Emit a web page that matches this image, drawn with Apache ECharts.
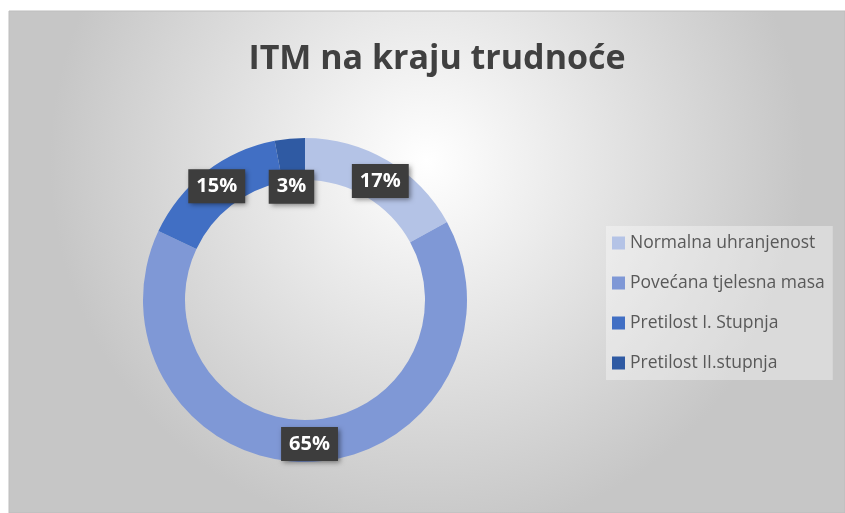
<!DOCTYPE html>
<html>
<head>
<meta charset="utf-8">
<script src="https://cdn.jsdelivr.net/npm/echarts@6/dist/echarts.min.js"></script>
<style>
  html, body { margin: 0; padding: 0; background: #fff; }
  #chart { width: 845px; height: 513px; }
</style>
</head>
<body>
<div id="chart"></div>
<script>
const categories = ['Normalna uhranjenost', 'Povećana tjelesna masa', 'Pretilost I. Stupnja', 'Pretilost II.stupnja'];
const values = [17, 65, 15, 3];
const colors = ['#b4c3e6', '#7f98d6', '#416fc4', '#2f5aa3'];

const chart = echarts.init(document.getElementById('chart'));

const option = {
    animation: false,
    graphic: [{
        type: 'rect',
        z: -10,
        shape: { x: 9, y: 11, width: 836, height: 502 },
        style: {
            fill: {
                type: 'radial', x: 0.5, y: 0.3, r: 0.75,
                colorStops: [
                    { offset: 0, color: '#ffffff' },
                    { offset: 1, color: '#c6c6c6' }
                ]
            },
            stroke: '#bdbdbd',
            lineWidth: 1
        }
    }],
    title: {
        text: 'ITM na kraju trudnoće',
        left: 432,
        textAlign: 'center',
        top: 37,
        textStyle: {
            fontFamily: 'Open Sans',
            fontSize: 34,
            fontWeight: 'bold',
            color: '#404040'
        }
    },
    legend: {
        orient: 'vertical',
        left: 606,
        top: 226,
        itemGap: 22,
        itemWidth: 13,
        itemHeight: 13,
        padding: [8, 8, 8, 6],
        backgroundColor: 'rgba(255,255,255,0.35)',
        icon: 'rect',
        textStyle: {
            fontFamily: 'Open Sans',
            fontSize: 17.5,
            color: '#595959'
        },
        data: categories
    },
    series: [{
        type: 'pie',
        center: [305, 300],
        radius: [120, 162],
        startAngle: 90,
        clockwise: true,
        avoidLabelOverlap: false,
        label: {
            show: true,
            position: 'inside',
            formatter: '{c}%',
            fontFamily: 'Open Sans',
            fontSize: 20,
            fontWeight: 'bold',
            color: '#ffffff',
            backgroundColor: '#3d3d3d',
            padding: [8, 8, 6, 8],
            shadowColor: 'rgba(0,0,0,0.45)',
            shadowBlur: 5,
            shadowOffsetX: 2,
            shadowOffsetY: 2
        },
        labelLine: { show: false },
        data: categories.map((name, i) => {
            const item = { name: name, value: values[i], itemStyle: { color: colors[i] } };
            if (i === 0) item.label = { offset: [2, 5] };
            if (i === 3) item.label = { offset: [0, 30] };
            return item;
        })
    }]
};

chart.setOption(option);
</script>
</body>
</html>
